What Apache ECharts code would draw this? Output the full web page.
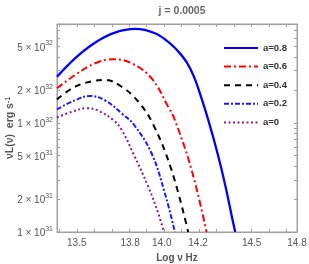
<!DOCTYPE html>
<html>
<head>
<meta charset="utf-8">
<script src="https://cdn.jsdelivr.net/npm/echarts@6/dist/echarts.min.js"></script>
<style>html,body{margin:0;padding:0;background:#fff;}#c{width:309px;height:264px;}</style>
</head>
<body>
<div id="c"></div>
<script>
// ---- data (x: log nu, y: nu L(nu) in erg/s) ----
const seriesNames = ['a=0.8', 'a=0.6', 'a=0.4', 'a=0.2', 'a=0'];

const a08_x = [13.387, 13.490, 13.604, 13.718, 13.833, 13.947, 14.033, 14.085, 14.128, 14.168, 14.204, 14.252, 14.305, 14.351, 14.391, 14.406];
const a08_y = [2.64e32, 3.90e32, 5.42e32, 6.70e32, 7.24e32, 6.61e32, 5.35e32, 4.42e32, 3.59e32, 2.69e32, 1.86e32, 1.06e32, 5.24e31, 2.59e31, 1.28e31, 1.0e31];

const a06_x = [13.387, 13.490, 13.604, 13.709, 13.814, 13.928, 14.023, 14.061, 14.157, 14.242];
const a06_y = [2.07e32, 2.74e32, 3.51e32, 3.82e32, 3.51e32, 2.55e32, 1.40e32, 1.06e32, 3.68e31, 1.0e31];

const a04_x = [13.387, 13.490, 13.604, 13.661, 13.757, 13.852, 13.937, 14.042, 14.137];
const a04_y = [1.64e32, 2.14e32, 2.43e32, 2.47e32, 2.14e32, 1.56e32, 9.66e31, 3.68e31, 1.0e31];

const a02_x = [13.387, 13.490, 13.576, 13.661, 13.757, 13.828, 13.928, 14.004, 14.061];
const a02_y = [1.33e32, 1.61e32, 1.76e32, 1.61e32, 1.22e32, 9.55e31, 5.24e31, 2.25e31, 1.0e31];

const a00_x = [13.387, 13.471, 13.557, 13.623, 13.709, 13.757, 13.823, 13.909, 13.966, 13.998];
const a00_y = [1.12e32, 1.26e32, 1.36e32, 1.29e32, 1.06e32, 8.6e31, 5.24e31, 2.59e31, 1.48e31, 1.0e31];

const xTickLabels = [13.5, 13.805, 13.986, 14.193, 14.5, 14.759];
const yTickLabels = [1e31, 2e31, 5e31, 1e32, 2e32, 5e32];
const titleText = 'j = 0.0005';
// ------------------------------------------------------------------------

const xMin = 13.387, xMax = 14.759;
const yMin = 1e31, yMax = 8.04e32;
const lg = v => Math.log10(v);

const xMinorTicks = [];
for (let i = 134; i <= 147; i++) xMinorTicks.push(i / 10);
const yMinorTicks = [];
for (let e = 31; e <= 32; e++) for (let k = 1; k <= 9; k++) { const v = k * Math.pow(10, e); if (v <= yMax) yMinorTicks.push(lg(v)); }

const pairs = (xs, ys) => xs.map((x, i) => [x, lg(ys[i])]);
const colors = ['#0000ff', '#ff0000', '#000000', '#1a1aff', '#8b1a8b'];
const dashes = ['solid', [7, 3, 2, 3], [6, 5], [5, 2, 2, 2], [2, 2.5]];
const datas = [pairs(a08_x, a08_y), pairs(a06_x, a06_y), pairs(a04_x, a04_y), pairs(a02_x, a02_y), pairs(a00_x, a00_y)];

const labelColor = '#555';
const frameColor = '#a0a0a0';

const chart = echarts.init(document.getElementById('c'));
chart.setOption({
  animation: false,
  textStyle: { fontFamily: 'Liberation Sans, Arial, sans-serif' },
  title: {
    text: titleText, left: 177, top: 1, textAlign: 'center',
    textStyle: { fontSize: 10.5, fontWeight: 'bold', color: '#666' }
  },
  grid: { left: 57, right: 12, top: 24, bottom: 32, show: true, borderColor: frameColor, borderWidth: 1, outerBoundsMode: 'none', containLabel: false },
  legend: {
    orient: 'vertical', left: 218, top: 38, itemWidth: 34, itemHeight: 10, itemGap: 8.6,
    data: seriesNames,
    itemStyle: { opacity: 0 },
    textStyle: { fontSize: 9.5, fontWeight: 'bold', color: '#333' }
  },
  xAxis: [{
    type: 'value', min: xMin, max: xMax, position: 'bottom',
    name: 'Log ν Hz', nameLocation: 'middle', nameGap: 21, nameMoveOverlap: false,
    nameTextStyle: { fontSize: 10, color: labelColor, fontWeight: 'bold' },
    axisLine: { show: true, lineStyle: { color: frameColor } },
    splitLine: { show: false },
    axisTick: { show: true, inside: true, length: 3, customValues: xMinorTicks, lineStyle: { color: frameColor } },
    axisLabel: { customValues: xTickLabels, formatter: v => v.toFixed(1), fontSize: 10, color: labelColor, margin: 6 }
  }, {
    type: 'value', min: xMin, max: xMax, position: 'top',
    axisLine: { show: true, lineStyle: { color: frameColor } },
    splitLine: { show: false },
    axisTick: { show: true, inside: true, length: 3, customValues: xMinorTicks, lineStyle: { color: frameColor } },
    axisLabel: { show: false }
  }],
  yAxis: [{
    type: 'value', min: lg(yMin), max: lg(yMax), position: 'left',
    name: 'νL(ν)  erg s{sup|-1}', nameLocation: 'middle', nameGap: 41, nameMoveOverlap: false,
    nameTextStyle: { fontSize: 10.5, color: labelColor, fontWeight: 'bold',
      rich: { sup: { fontSize: 7, color: labelColor, fontWeight: 'bold', verticalAlign: 'top', lineHeight: 8 } } },
    axisLine: { show: true, lineStyle: { color: frameColor } },
    splitLine: { show: false },
    axisTick: { show: true, inside: true, length: 3, customValues: yMinorTicks, lineStyle: { color: frameColor } },
    axisLabel: {
      customValues: yTickLabels.map(lg), margin: 4,
      formatter: v => { const e = Math.floor(v + 1e-6); const m = Math.round(Math.pow(10, v - e)); return '{m|' + m + ' × 10}{e|' + e + '}'; },
      rich: {
        m: { fontSize: 10, color: labelColor, lineHeight: 13, verticalAlign: 'bottom' },
        e: { fontSize: 7, color: labelColor, lineHeight: 8, verticalAlign: 'top' }
      }
    }
  }, {
    type: 'value', min: lg(yMin), max: lg(yMax), position: 'right',
    axisLine: { show: true, lineStyle: { color: frameColor } },
    splitLine: { show: false },
    axisTick: { show: true, inside: true, length: 3, customValues: yMinorTicks, lineStyle: { color: frameColor } },
    axisLabel: { show: false }
  }],
  series: seriesNames.map((n, i) => ({
    name: n, type: 'line', data: datas[i], symbol: 'none', showSymbol: false, smooth: 0.4, clip: true,
    itemStyle: { color: colors[i] },
    lineStyle: { color: colors[i], width: i === 0 ? 2.3 : 2, type: dashes[i] }
  }))
});
</script>
</body>
</html>
